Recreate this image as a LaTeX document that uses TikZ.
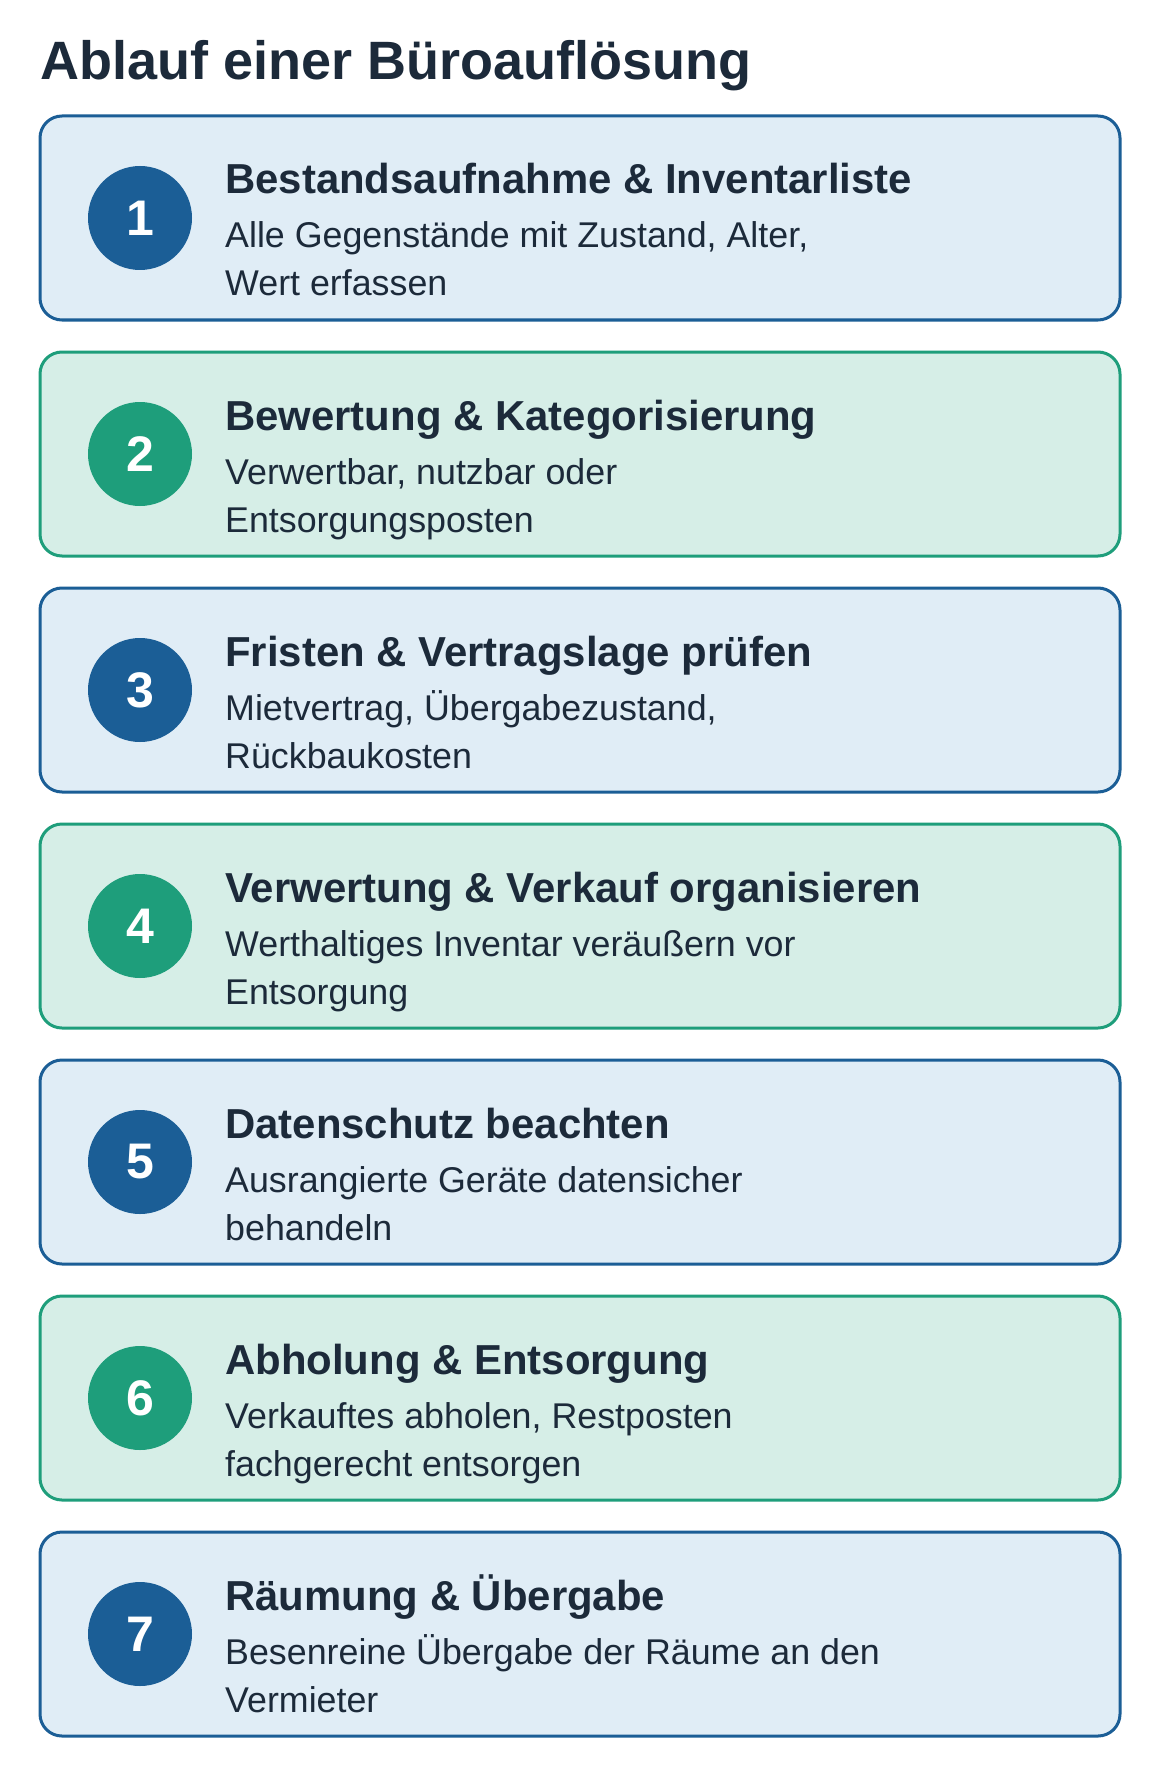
\documentclass[tikz,border=0pt]{standalone}
\usepackage{fontspec}
\setmainfont{Liberation Sans}
\definecolor{bline}{RGB}{27,94,150}
\definecolor{bfill}{RGB}{224,237,246}
\definecolor{gline}{RGB}{30,158,123}
\definecolor{gfill}{RGB}{214,238,231}
\definecolor{inkdark}{RGB}{28,42,58}
\newcommand{\flowstep}[6]{%
  \node[stepbox, draw=#3line, fill=#3fill] (box#1) at (580,#2+102) {};
  \node[numdot, fill=#3line] (num#1) at (140,#2+102) {#1};
  \node[steptitle] (ttl#1) at (225,#2+78) {#4};
  \node[stepdesc] (dsa#1) at (225,#2+132) {#5};
  \node[stepdesc] (dsb#1) at (225,#2+180) {#6};
}
\begin{document}
\begin{tikzpicture}[x=1pt,y=-1pt,
  stepbox/.style={rectangle, rounded corners=22pt, line width=3pt, minimum width=1080pt, minimum height=204pt, inner sep=0pt},
  numdot/.style={circle, minimum size=104pt, inner sep=0pt, text=white, font=\fontsize{50}{50}\selectfont\bfseries},
  steptitle/.style={anchor=base west, inner sep=0pt, text=inkdark, font=\fontsize{41.9}{48}\selectfont\bfseries},
  stepdesc/.style={anchor=base west, inner sep=0pt, text=inkdark, font=\fontsize{35.8}{48}\selectfont},
  pagetitle/.style={anchor=base west, inner sep=0pt, text=inkdark, font=\fontsize{54}{60}\selectfont\bfseries}]
\useasboundingbox (0,0) rectangle (1160,1776);
\fill[white] (0,0) rectangle (1160,1776);
\node[pagetitle] (title) at (40,80) {Ablauf einer Büroauflösung};
\flowstep{1}{116}{b}{Bestandsaufnahme \& Inventarliste}{Alle Gegenstände mit Zustand, Alter,}{Wert erfassen}
\flowstep{2}{352}{g}{Bewertung \& Kategorisierung}{Verwertbar, nutzbar oder}{Entsorgungsposten}
\flowstep{3}{588}{b}{Fristen \& Vertragslage prüfen}{Mietvertrag, Übergabezustand,}{Rückbaukosten}
\flowstep{4}{824}{g}{Verwertung \& Verkauf organisieren}{Werthaltiges Inventar veräußern vor}{Entsorgung}
\flowstep{5}{1060}{b}{Datenschutz beachten}{Ausrangierte Geräte datensicher}{behandeln}
\flowstep{6}{1296}{g}{Abholung \& Entsorgung}{Verkauftes abholen, Restposten}{fachgerecht entsorgen}
\flowstep{7}{1532}{b}{Räumung \& Übergabe}{Besenreine Übergabe der Räume an den}{Vermieter}
\end{tikzpicture}
\end{document}
